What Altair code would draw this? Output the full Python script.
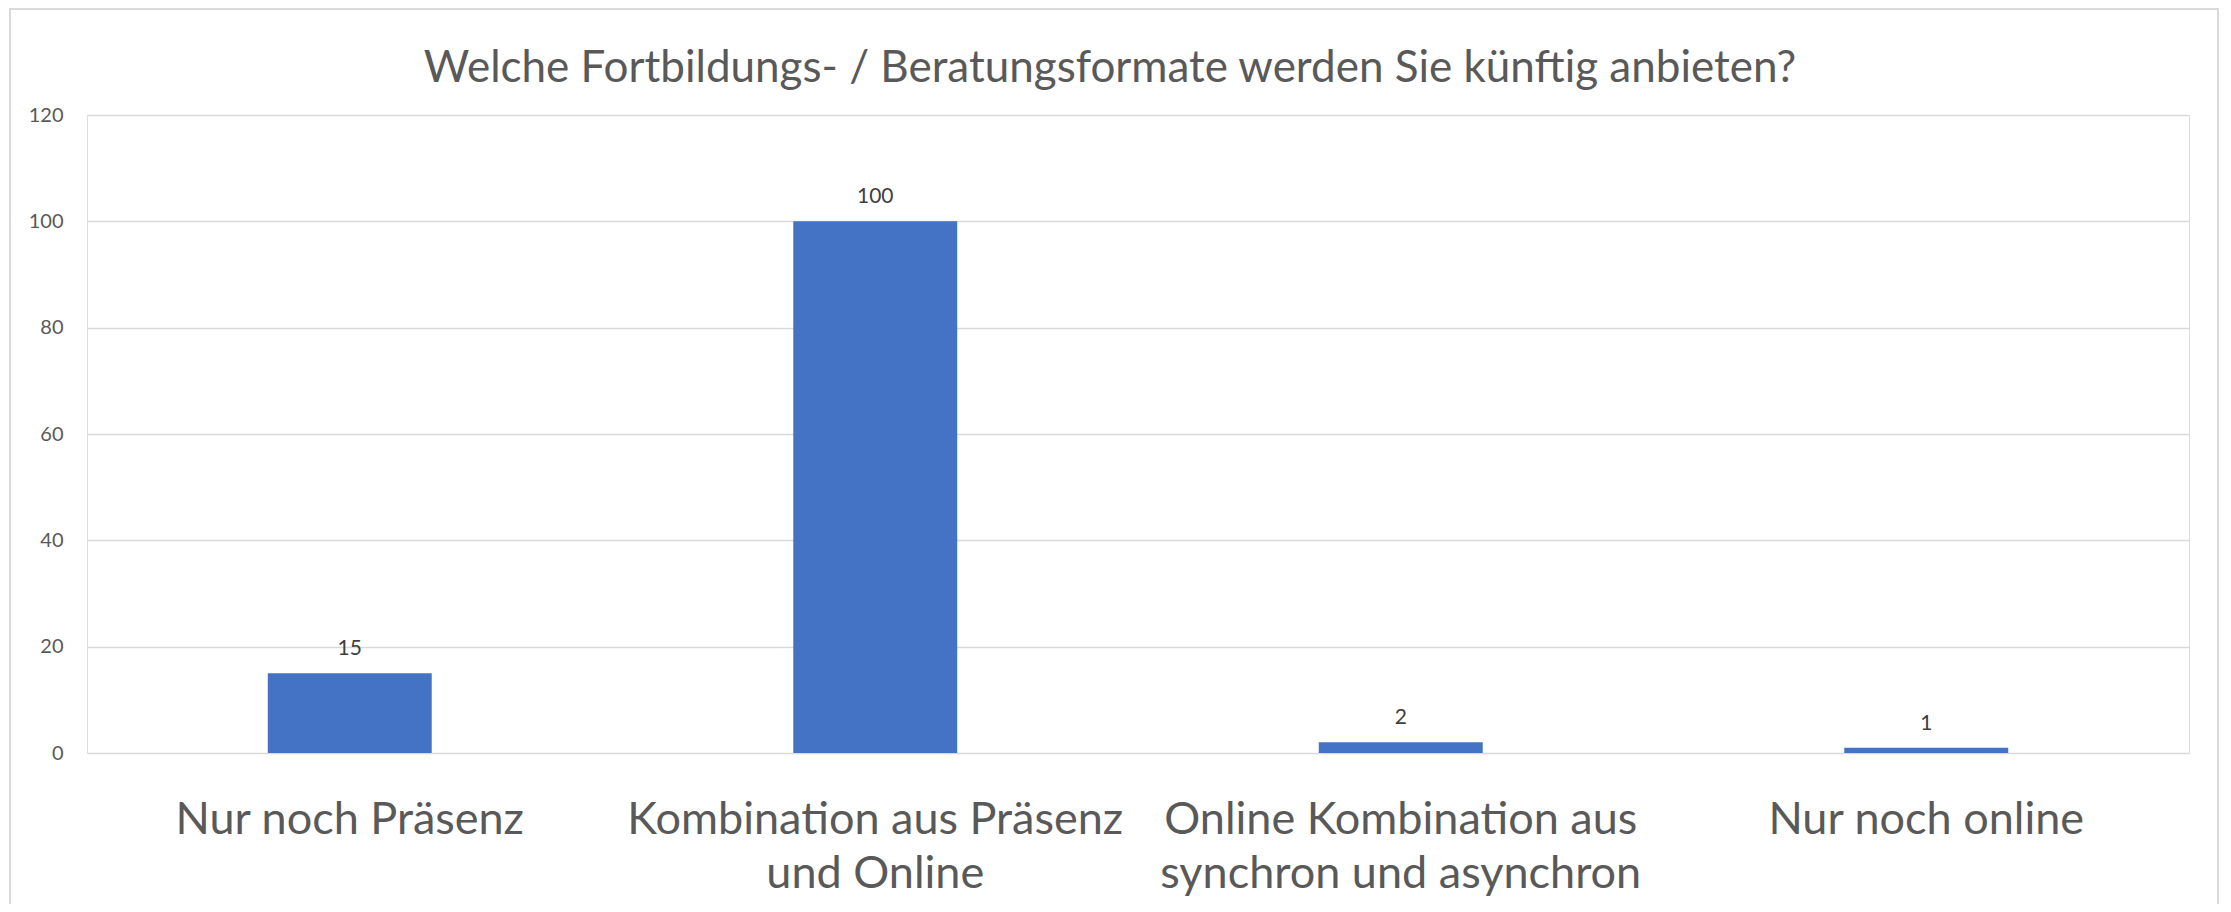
import altair as alt
import pandas as pd

categories = [
    "Nur noch Präsenz",
    "Kombination aus Präsenz\nund Online",
    "Online Kombination aus\nsynchron und asynchron",
    "Nur noch online",
]
values = [15, 100, 2, 1]
y_ticks = [0, 20, 40, 60, 80, 100, 120]
title_text = "Welche Fortbildungs- / Beratungsformate werden Sie künftig anbieten?"

df = pd.DataFrame({"cat": categories, "val": values})

FONT = "Lato"
W, H = 2102, 638

x_enc = alt.X(
    "cat:N",
    sort=categories,
    scale=alt.Scale(paddingInner=0.688, paddingOuter=0.344),
    axis=alt.Axis(
        title=None,
        domain=False,
        ticks=False,
        tickSize=0,
        labelAngle=0,
        labelFont=FONT,
        labelFontSize=45,
        labelColor="#595959",
        labelPadding=44,
        labelBaseline="top",
        labelLineHeight=54,
        labelLimit=1000,
        labelExpr="split(datum.label, '\\n')",
        grid=False,
    ),
)
y_enc = alt.Y(
    "val:Q",
    scale=alt.Scale(domain=[0, 120], nice=False),
    axis=alt.Axis(
        title=None,
        values=y_ticks,
        domain=False,
        ticks=False,
        tickSize=0,
        labelFont=FONT,
        labelFontSize=20,
        labelColor="#595959",
        labelPadding=24,
        gridColor="#d9d9d9",
        gridWidth=1.6,
    ),
)

bars = alt.Chart(df).mark_bar(color="#4472c4").encode(x=x_enc, y=y_enc)

labels = alt.Chart(df).mark_text(
    font=FONT, fontSize=21, color="#404040", baseline="alphabetic", dy=-18
).encode(x=alt.X("cat:N", sort=categories), y="val:Q", text="val:Q")

frame = alt.Chart(pd.DataFrame({"a": [0]})).mark_rect(
    fill="transparent", stroke="#d9d9d9", strokeWidth=2
).encode(
    x=alt.value(-77), x2=alt.value(2131), y=alt.value(-106), y2=alt.value(1000)
)

title = alt.Chart(pd.DataFrame({"t": [title_text]})).mark_text(
    font=FONT, fontSize=44, color="#595959", align="center", baseline="alphabetic"
).encode(x=alt.value(1023), y=alt.value(-33), text="t:N")

chart = (
    alt.layer(frame, bars, labels, title)
    .properties(
        width=W,
        height=H,
        padding={"left": 79, "top": 107, "right": 34, "bottom": 151},
        autosize=alt.AutoSizeParams(type="none"),
    )
    .configure_view(stroke=None)
    .configure(background="white")
)

chart.save("out.html", embed_options={"renderer": "svg", "actions": False})
